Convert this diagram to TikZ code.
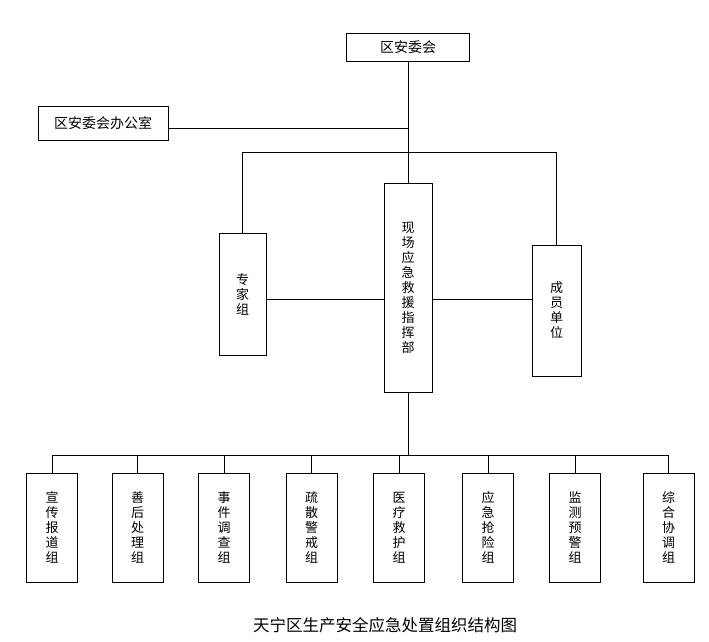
\documentclass[tikz,border=0pt]{standalone}
\usepackage{fontspec}
\setmainfont{Noto Sans CJK SC}
\usetikzlibrary{positioning}

\begin{document}
\begin{tikzpicture}[
    x=1pt, y=-1pt,
    box/.style={draw, thick, rectangle, inner sep=0pt, align=center, font=\fontsize{13}{15}\selectfont},
    wbox/.style={box, minimum height=28pt, font=\fontsize{14}{16}\selectfont},
    group/.style={box, minimum width=51pt, minimum height=109pt},
    link/.style={thick}
]
\useasboundingbox (0,0) rectangle (709,642);

% top
\node[wbox, minimum width=123pt] (anwei) at (408,47) {区安委会};
\node[wbox, minimum width=130pt, minimum height=34pt] (office) at (103,123) {区安委会办公室};

% middle row
\node[box, minimum width=47pt, minimum height=122pt] (expert) at (242.5,294) {专\\家\\组};
\node[box, minimum width=48pt, minimum height=209pt] (hq) at (408,287.5) {现\\场\\应\\急\\救\\援\\指\\挥\\部};
\node[box, minimum width=49pt, minimum height=131pt] (member) at (556.5,310.5) {成\\员\\单\\位};

% groups
\node[group] (g1) at (52,527.5) {宣\\传\\报\\道\\组};
\node[group] (g2) at (137.5,527.5) {善\\后\\处\\理\\组};
\node[group] (g3) at (224,527.5) {事\\件\\调\\查\\组};
\node[group] (g4) at (311.5,527.5) {疏\\散\\警\\戒\\组};
\node[group] (g5) at (399,527.5) {医\\疗\\救\\护\\组};
\node[group] (g6) at (488,527.5) {应\\急\\抢\\险\\组};
\node[group] (g7) at (575,527.5) {监\\测\\预\\警\\组};
\node[group] (g8) at (668.5,527.5) {综\\合\\协\\调\\组};

% caption
\node[font=\fontsize{16.5}{18}\selectfont] (title) at (385,625) {天宁区生产安全应急处置组织结构图};

% connectors
\coordinate (split) at (408,152);
\coordinate (mid) at (0,299);
\coordinate (bus) at (408,455);
\draw[link] (anwei.south) -- (hq.north);
\draw[link] (office.east |- 0,128) -- (anwei.south |- 0,128);
\draw[link] (expert.north) |- (member.north |- split) -- (member.north);
\draw[link] (expert.east |- mid) -- (hq.west |- mid);
\draw[link] (hq.east |- mid) -- (member.west |- mid);
\draw[link] (hq.south) -- (bus);
\draw[link] (g1.north) |- (g8.north |- bus) -- (g8.north);
\foreach \g in {g2,g3,g4,g5,g6,g7}
    \draw[link] (\g.north) -- (\g.north |- bus);

\end{tikzpicture}
\end{document}
